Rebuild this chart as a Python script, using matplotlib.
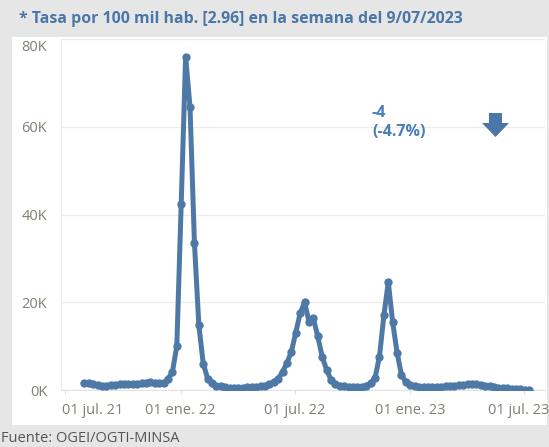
import numpy as np
import pandas as pd
import matplotlib
matplotlib.use("Agg")
import matplotlib.pyplot as plt
import matplotlib.transforms as mtransforms
from matplotlib.patches import Rectangle, Polygon
from matplotlib.ticker import FuncFormatter

# weekly cases (thousands), weeks ending on Sunday, 01/08/2021 .. 09/07/2023
semanas = pd.date_range("2021-08-01", "2023-07-09", freq="7D")
casos_k = [
    1.6, 1.5, 1.3, 1.1, 1.0, 1.0, 1.1, 1.2, 1.3, 1.4, 1.4, 1.3, 1.4, 1.5, 1.7, 1.8, 1.6, 1.5, 1.6,
    2.5, 4.1, 10.0, 42.5, 76.0, 64.5, 33.5, 14.8, 6.0, 2.6, 1.5, 1.0,
    0.8, 0.6, 0.5, 0.5, 0.5, 0.5, 0.6, 0.6, 0.7, 0.8, 1.0, 1.3, 1.8, 2.6,
    4.1, 6.2, 8.7, 13.1, 17.5, 20.0, 15.6, 16.3, 12.2, 7.6, 4.6, 2.3, 1.4,
    1.0, 0.8, 0.6, 0.6, 0.6, 0.7, 1.0, 1.6,
    2.8, 7.6, 17.0, 24.6, 15.4, 8.5, 3.4, 1.8,
    1.2, 0.9, 0.7, 0.6, 0.6, 0.6, 0.7, 0.7, 0.8, 0.9, 1.0, 1.1, 1.2, 1.3, 1.4, 1.3,
    1.1, 0.9, 0.8, 0.6, 0.5, 0.4, 0.4, 0.3, 0.3, 0.15, 0.085, 0.081,
]

titulo = "* Tasa por 100 mil hab. [2.96] en la semana del 9/07/2023"
fuente = "Fuente: OGEI/OGTI-MINSA"
cambio = "-4"
cambio_pct = "(-4.7%)"
ticks_x = pd.to_datetime(["2021-07-01", "2022-01-01", "2022-07-01", "2023-01-01", "2023-07-01"])
ticks_x_lab = ["01 jul. 21", "01 ene. 22", "01 jul. 22", "01 ene. 23", "01 jul. 23"]
ticks_y = [0, 20, 40, 60, 80]

W, H = 549, 447
azul = "#4e79a7"
gris_txt = "#857d75"

plt.rcParams["font.family"] = ["Open Sans", "DejaVu Sans"]

fig = plt.figure(figsize=(W / 100, H / 100), dpi=100, facecolor="#e6e6e6")

def fx(px):
    return px / W

def fy(py):
    return 1 - py / H

def shift(txt, dx, dy):
    txt.set_transform(txt.get_transform() + mtransforms.ScaledTranslation(dx / 100, -dy / 100, fig.dpi_scale_trans))

# white panel
fig.patches.append(Rectangle((fx(12), fy(425)), fx(547) - fx(12), fy(37) - fy(425),
                             transform=fig.transFigure, facecolor="white", edgecolor="none", zorder=-5))

ax = fig.add_axes([fx(61), fy(390), fx(545) - fx(61), fy(39) - fy(390)], zorder=2)
ax.set_facecolor("none")
ax.plot(semanas, casos_k, color=azul, lw=3.6, marker="o", ms=5, mec=azul, mfc=azul,
        solid_joinstyle="round", zorder=3)

ax.set_ylim(0, 80)
ax.set_xlim(pd.Timestamp("2021-06-25"), pd.Timestamp("2023-08-03"))
ax.set_yticks(ticks_y)
ax.yaxis.set_major_formatter(FuncFormatter(lambda v, p: f"{int(v)}K"))
ax.set_xticks(ticks_x)
ax.set_xticklabels(ticks_x_lab)
ax.grid(axis="y", color="#ececec", lw=0.9)
for s in ["top", "right"]:
    ax.spines[s].set_visible(False)
ax.spines["left"].set_color("#eeeeee")
ax.spines["bottom"].set_color("#e2e2e2")
ax.tick_params(axis="y", length=0, pad=10, labelsize=10.5, labelcolor=gris_txt)
ax.tick_params(axis="x", length=3, color="#dddddd", pad=6, labelsize=10.5, labelcolor=gris_txt)

xl = ax.get_xticklabels()
xl[0].set_ha("left")
shift(xl[0], -3, 0)
xl[-1].set_ha("right")
shift(xl[-1], 25, 0)
yl = ax.get_yticklabels()
yl[-1].set_va("top")
shift(yl[-1], 0, 1)

fig.text(fx(19), fy(19), titulo, fontsize=11.4, fontweight="bold", color="#4a76a8", va="center", ha="left")
fig.text(fx(1), fy(438), fuente, fontsize=10.5, color="#555555", va="center", ha="left")
fig.text(fx(372), fy(113), cambio, fontsize=11.5, fontweight="bold", color="#4a7ebb", va="center", ha="left")
fig.text(fx(372), fy(132), cambio_pct, fontsize=11.5, fontweight="bold", color="#4a7ebb", va="center", ha="left")

# down arrow icon
flecha = [(489, 113), (502, 113), (502, 123), (509, 123), (495.5, 137), (482, 123), (489, 123)]
fig.patches.append(Polygon([(fx(a), fy(b)) for a, b in flecha], closed=True, transform=fig.transFigure,
                           facecolor="#4a76a8", edgecolor="none", zorder=5))

fig.savefig("out.png", dpi=100, facecolor=fig.get_facecolor())
